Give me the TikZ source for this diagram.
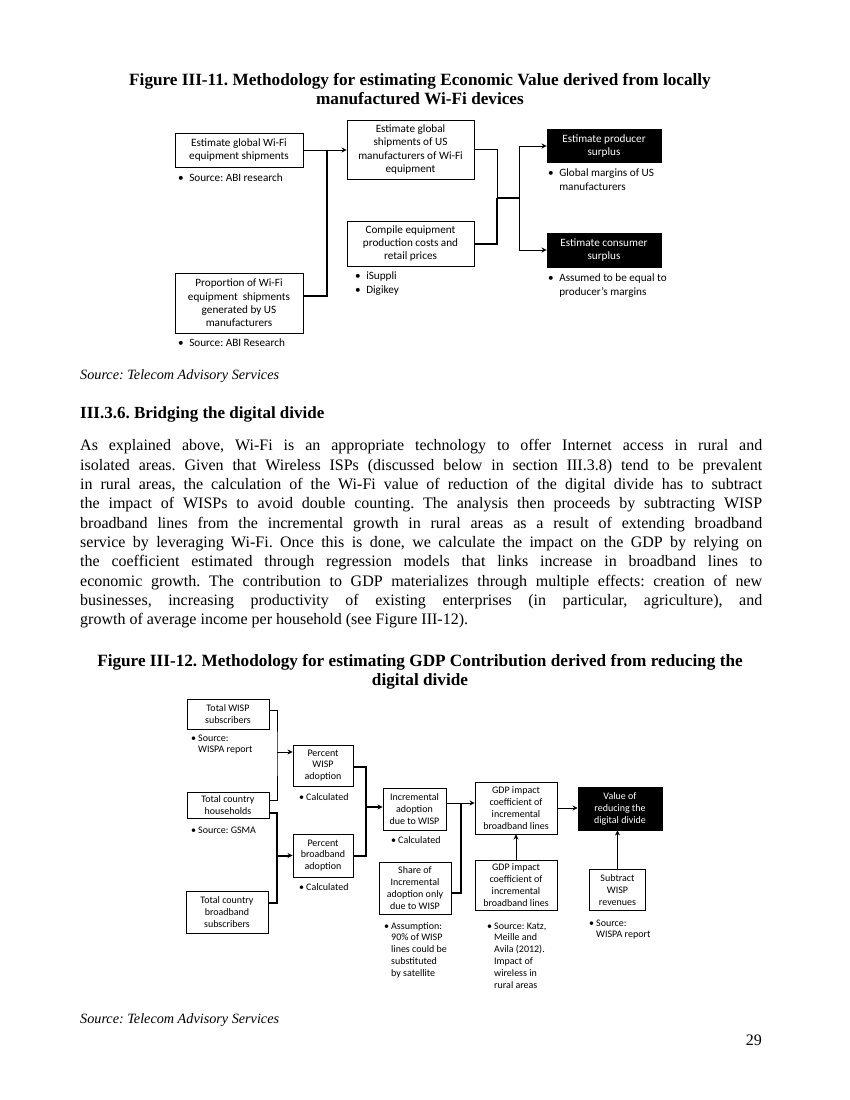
\documentclass[tikz,border=0pt]{standalone}
\usepackage{fontspec}
\setmainfont{Liberation Serif}
\newfontfamily\diagfont{Carlito}
\usetikzlibrary{arrows.meta}
\newcommand\bodyline[1]{\makebox[682pt][s]{#1}}
\newcommand\fblt[1]{\begin{tabular}[t]{@{}l@{\hspace{5.5pt}}l@{}}\textbullet & #1\end{tabular}}
\newcommand\gblt[1]{\begin{tabular}[t]{@{}l@{\hspace{2pt}}l@{}}\textbullet & #1\end{tabular}}
\frenchspacing
\begin{document}
\begin{tikzpicture}[x=1pt,y=-1pt,
  fbox/.style={draw, line width=0.9pt, align=center, inner sep=0pt, font=\diagfont\fontsize{11.2}{13.4}\selectfont},
  gbox/.style={draw, line width=0.9pt, align=center, inner sep=0pt, font=\diagfont\fontsize{10}{11.9}\selectfont},
  blk/.style={fill=black, text=white},
  ftxt/.style={anchor=base west, inner sep=0pt, font=\diagfont\fontsize{11.2}{13.4}\selectfont\renewcommand\arraystretch{1.04}},
  gtxt/.style={anchor=base west, inner sep=0pt, font=\diagfont\fontsize{10}{11.9}\selectfont\renewcommand\arraystretch{1.0}},
  thinln/.style={line width=0.9pt},
  thickln/.style={line width=2pt},
  midln/.style={line width=1.4pt},
  arr/.style={-{Stealth[length=5pt,width=5pt]}},
  body/.style={anchor=west, inner sep=0pt, font=\fontsize{16}{19}\selectfont},
  ttl/.style={align=center, inner sep=0pt, font=\bfseries\fontsize{17.2}{19}\selectfont},
  src/.style={anchor=west, inner sep=0pt, font=\itshape\fontsize{14.2}{18}\selectfont}]
\useasboundingbox[fill=white] (0,0) rectangle (850,1100);

% ---------- Figure III-11 ----------
\node[ttl] (t1) at (420,89.5) {Figure III-11. Methodology for estimating Economic Value derived from locally\\manufactured Wi-Fi devices};

\node[fbox, minimum width=128pt, minimum height=34pt] (A) at (239,150) {Estimate global Wi-Fi\\equipment shipments};
\node[fbox, minimum width=127pt, minimum height=59pt] (B) at (410.5,149.5) {Estimate global\\shipments of US\\manufacturers of Wi-Fi\\equipment};
\node[fbox, minimum width=127pt, minimum height=45pt] (D) at (410.5,243.5) {Compile equipment\\production costs and\\retail prices};
\node[fbox, minimum width=128pt, minimum height=60pt] (C) at (239,303) {Proportion of Wi-Fi\\equipment\ \ shipments\\generated by US\\manufacturers};
\node[fbox, blk, minimum width=114pt, minimum height=33pt] (P) at (604,146) {Estimate producer\\surplus};
\node[fbox, blk, minimum width=114pt, minimum height=34pt] (Q) at (604,250) {Estimate consumer\\surplus};

\node[ftxt] (tA) at (178,181.5) {\fblt{Source: ABI research}};
\node[ftxt] (tC) at (178,346.5) {\fblt{Source: ABI Research}};
\node[ftxt] (tD) at (355,279.5) {\fblt{iSuppli\\\textbullet & Digikey}};
\node[ftxt] (tP) at (548,176.5) {\fblt{Global margins of US\\ & manufacturers}};
\node[ftxt] (tQ) at (548,281.5) {\fblt{Assumed to be equal to\\ & producer’s margins}};

\coordinate (j1) at (327,150);
\coordinate (v1) at (497,198);
\coordinate (v2) at (519,198);
\draw[thinln, arr] (A.east) -- (A.east -| B.west);
\draw[thickln] ([yshift=7pt]C.east) -| (j1);
\draw[thinln] (B.east) -| (v1);
\draw[thickln] (D.east) -| (v1);
\draw[thickln] (v1) -- (v2);
\draw[thinln, arr] (v2) |- (P.west);
\draw[thinln, arr] (v2) |- (Q.west);

\node[src] (s1) at (80,376) {Source: Telecom Advisory Services};

% ---------- Text ----------
\node[anchor=west, inner sep=0pt, font=\bfseries\fontsize{17}{19}\selectfont] (h1) at (80,414) {III.3.6. Bridging the digital divide};
\node[body] (l1) at (80,447) {\bodyline{As explained above, Wi-Fi is an appropriate technology to offer Internet access in rural and}};
\node[body] (l2) at (80,466.3) {\bodyline{isolated areas. Given that Wireless ISPs (discussed below in section III.3.8) tend to be prevalent}};
\node[body] (l3) at (80,485.6) {\bodyline{in rural areas, the calculation of the Wi-Fi value of reduction of the digital divide has to subtract}};
\node[body] (l4) at (80,504.9) {\bodyline{the impact of WISPs to avoid double counting. The analysis then proceeds by subtracting WISP}};
\node[body] (l5) at (80,524.2) {\bodyline{broadband lines from the incremental growth in rural areas as a result of extending broadband}};
\node[body] (l6) at (80,543.5) {\bodyline{service by leveraging Wi-Fi. Once this is done, we calculate the impact on the GDP by relying on}};
\node[body] (l7) at (80,562.8) {\bodyline{the coefficient estimated through regression models that links increase in broadband lines to}};
\node[body] (l8) at (80,582.1) {\bodyline{economic growth. The contribution to GDP materializes through multiple effects: creation of new}};
\node[body] (l9) at (80,601.4) {\bodyline{businesses, increasing productivity of existing enterprises (in particular, agriculture), and}};
\node[body] (l10) at (80,620.7) {growth of average income per household (see Figure III-12).};

% ---------- Figure III-12 ----------
\node[ttl] (t2) at (420,671.5) {Figure III-12. Methodology for estimating GDP Contribution derived from reducing the\\digital divide};

\node[gbox, minimum width=82pt, minimum height=30pt] (W) at (228,714) {Total WISP\\subscribers};
\node[gbox, minimum width=82pt, minimum height=26pt] (H) at (228,805.5) {Total country\\households};
\node[gbox, minimum width=82pt, minimum height=42pt] (T) at (227,912) {Total country\\broadband\\subscribers};
\node[gbox, minimum width=60pt, minimum height=41pt] (PW) at (323,765.5) {Percent\\WISP\\adoption};
\node[gbox, minimum width=60pt, minimum height=43pt] (PB) at (323,855.5) {Percent\\broadband\\adoption};
\node[gbox, minimum width=63pt, minimum height=42pt] (I) at (414.5,809) {Incremental\\adoption\\due to WISP};
\node[gbox, minimum width=72pt, minimum height=52pt] (S) at (415,888) {Share of\\Incremental\\adoption only\\due to WISP};
\node[gbox, minimum width=82pt, minimum height=52pt] (G1) at (516,808) {GDP impact\\coefficient of\\incremental\\broadband lines};
\node[gbox, minimum width=82pt, minimum height=50pt] (G2) at (516,885) {GDP impact\\coefficient of\\incremental\\broadband lines};
\node[gbox, blk, minimum width=84pt, minimum height=43pt] (V) at (620,808.5) {Value of\\reducing the\\digital divide};
\node[gbox, minimum width=56pt, minimum height=41pt] (SW) at (617.5,890) {Subtract\\WISP\\revenues};

\node[gtxt] (tW) at (191,741) {\gblt{Source:\\ & WISPA report}};
\node[gtxt] (tH) at (191,833) {\gblt{Source: GSMA}};
\node[gtxt] (tPW) at (299,800) {\gblt{Calculated}};
\node[gtxt] (tPB) at (299,890) {\gblt{Calculated}};
\node[gtxt] (tI) at (391,843) {\gblt{Calculated}};
\node[gtxt] (tS) at (384,929) {\gblt{Assumption:\\ & 90\% of WISP\\ & lines could be\\ & substituted\\ & by satellite}};
\node[gtxt] (tG) at (487,929) {\gblt{Source: Katz,\\ & Meille and\\ & Avila (2012).\\ & Impact of\\ & wireless in\\ & rural areas}};
\node[gtxt] (tSW) at (589,926) {\gblt{Source:\\ & WISPA report}};

\coordinate (k1) at (277,752);
\coordinate (k2) at (277,855.5);
\coordinate (k3) at (366,807);
\coordinate (k4) at (461,803);
\draw[thinln] ([yshift=4pt]W.east) -| (k1) |- ([yshift=5.5pt]H.east);
\draw[thinln, arr] (k1) -- (k1 -| PW.west);
\draw[thickln] ([yshift=-7.5pt]H.east) -| (k2) |- ([yshift=9pt]T.east);
\draw[thickln, arr] (k2) -- (PB.west);
\draw[thickln] ([yshift=-1.5pt]PW.east) -| (k3) |- (PB.east);
\draw[thickln, arr] (k3) -- (k3 -| I.west);
\draw[thinln] ([yshift=6pt]I.east) -- (k4);
\draw[thickln] ([yshift=-5pt]S.east) -| (k4);
\draw[thinln, arr] (k4) -- (k4 -| G1.west);
\draw[thinln, arr] (G2.north) -- (G1.south);
\draw[thinln, arr] (G1.east) -- (G1.east -| V.west);
\draw[midln, arr] (SW.north) -- (SW.north |- V.south);

\node[src] (s2) at (80,1020) {Source: Telecom Advisory Services};
\node[anchor=east, inner sep=0pt, font=\fontsize{16}{19}\selectfont] (pg) at (762,1040) {29};
\end{tikzpicture}
\end{document}
